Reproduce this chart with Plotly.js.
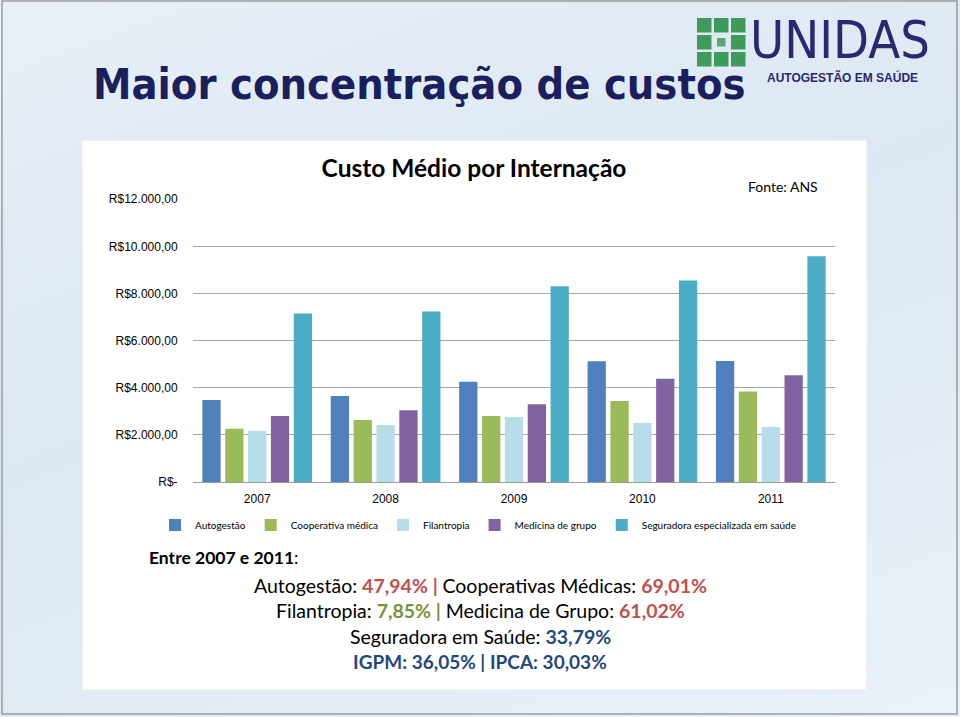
<!DOCTYPE html>
<html>
<head>
<meta charset="utf-8">
<script src="https://cdn.plot.ly/plotly-3.0.1.min.js"></script>
<style>
  html, body { margin: 0; padding: 0; }
  body { width: 960px; height: 717px; overflow: hidden;
         background: linear-gradient(160deg, #e8eff7 0%, #dce8f3 45%, #eaf1f8 100%); }
  #chart { width: 960px; height: 717px; }
</style>
</head>
<body>
<div id="chart"></div>
<script>
// ---- data ----
const years = ["2007", "2008", "2009", "2010", "2011"];
const seriesNames = ["Autogestão", "Cooperativa médica", "Filantropia", "Medicina de grupo", "Seguradora especializada em saúde"];
const autogestao  = [3480, 3650, 4250, 5120, 5130];
const cooperativa = [2260, 2630, 2800, 3440, 3845];
const filantropia = [2165, 2420, 2760, 2500, 2335];
const medicina    = [2800, 3040, 3295, 4380, 4525];
const seguradora  = [7150, 7240, 8310, 8550, 9580];
const tickValues = [0, 2000, 4000, 6000, 8000, 10000, 12000];
const tickLabels = ["R$-", "R$2.000,00", "R$4.000,00", "R$6.000,00", "R$8.000,00", "R$10.000,00", "R$12.000,00"];

const colors = ["#4F81BD", "#9BBB59", "#B7DEE8", "#8064A2", "#4BACC6"];
const allSeries = [autogestao, cooperativa, filantropia, medicina, seguradora];

const traces = allSeries.map((vals, i) => ({
  type: "bar",
  name: seriesNames[i],
  x: years,
  y: vals,
  marker: { color: colors[i] },
  hoverinfo: "skip"
}));

// pixel -> paper helpers (plot area 193..835 x, 199..482 y)
const L = 193, R = 835, T = 199, B = 482;
const px = v => (v - L) / (R - L);
const py = v => (B - v) / (B - T);

const shapes = [
  { type: "rect", xref: "paper", yref: "paper", layer: "below",
    x0: px(82), x1: px(867), y0: py(690), y1: py(140),
    fillcolor: "#ffffff", line: { color: "#e4e9ef", width: 1 } },
  { type: "rect", xref: "paper", yref: "paper", layer: "below",
    x0: px(2), x1: px(957), y0: py(714), y1: py(1),
    fillcolor: "rgba(0,0,0,0)", line: { color: "#9a9a9a", width: 1.5 } }
];
const gx = [697, 714, 731], gy = [18, 35, 52], gs = 14.5;
for (let r = 0; r < 3; r++) {
  for (let c = 0; c < 3; c++) {
    const center = (r === 1 && c === 1);
    const inset = center ? 3 : 0;
    shapes.push({ type: "rect", xref: "paper", yref: "paper", layer: "above",
      x0: px(gx[c] + inset), x1: px(gx[c] + gs - inset),
      y0: py(gy[r] + gs - inset), y1: py(gy[r] + inset),
      fillcolor: center ? "#5aa874" : "#3f9a5e", line: { width: 0 } });
  }
}

const red = "#C0504D", green = "#77933C", navy = "#1F497D";
const bodyFont = { family: "Lato, 'Liberation Sans', sans-serif", size: 19.5, color: "#000000" };
const c = (col, t) => "<span style='color:" + col + "'><b>" + t + "</b></span>";

const annotations = [
  { text: "<b>Maior concentração de custos</b>", xref: "paper", yref: "paper",
    x: px(91), y: py(84), xanchor: "left", yanchor: "middle", showarrow: false,
    font: { family: "'DejaVu Sans Condensed', 'DejaVu Sans', sans-serif", size: 43, color: "#1B1F5E" } },
  { text: "UNIDAS", xref: "paper", yref: "paper",
    x: px(748), y: py(40), xanchor: "left", yanchor: "middle", showarrow: false,
    font: { family: "'DejaVu Sans Condensed', 'Liberation Sans', sans-serif", size: 52, color: "#2A2870" } },
  { text: "<b>AUTOGESTÃO EM SAÚDE</b>", xref: "paper", yref: "paper",
    x: px(842), y: py(77), xanchor: "center", yanchor: "middle", showarrow: false,
    font: { family: "'Liberation Sans', sans-serif", size: 12, color: "#2A2870" } },
  { text: "Fonte: ANS", xref: "paper", yref: "paper",
    x: px(820), y: py(187), xanchor: "right", yanchor: "middle", showarrow: false,
    font: { family: "Lato, sans-serif", size: 14, color: "#000000" } },
  { text: "<b>Entre 2007 e 2011</b>:", xref: "paper", yref: "paper",
    x: px(147), y: py(557), xanchor: "left", yanchor: "middle", showarrow: false,
    font: { family: bodyFont.family, size: 17.5, color: "#000000" } },
  { text: "Autogestão: " + c(red, "47,94% | ") + "Cooperativas Médicas: " + c(red, "69,01%"),
    xref: "paper", yref: "paper", x: px(480), y: py(585), xanchor: "center", yanchor: "middle", showarrow: false,
    font: bodyFont },
  { text: "Filantropia: " + c(green, "7,85% | ") + "Medicina de Grupo: " + c(red, "61,02%"),
    xref: "paper", yref: "paper", x: px(480), y: py(610), xanchor: "center", yanchor: "middle", showarrow: false,
    font: bodyFont },
  { text: "Seguradora em Saúde: " + c(navy, "33,79%"),
    xref: "paper", yref: "paper", x: px(480), y: py(636), xanchor: "center", yanchor: "middle", showarrow: false,
    font: bodyFont },
  { text: "<b>IGPM: 36,05% | IPCA: 30,03%</b>",
    xref: "paper", yref: "paper", x: px(480), y: py(661), xanchor: "center", yanchor: "middle", showarrow: false,
    font: { family: bodyFont.family, size: 19, color: navy } }
];

const layout = {
  width: 960, height: 717,
  margin: { l: L, r: 960 - R, t: T, b: 717 - B, pad: 0 },
  paper_bgcolor: "rgba(0,0,0,0)",
  plot_bgcolor: "rgba(0,0,0,0)",
  barmode: "group",
  bargap: 0.11,
  bargroupgap: 0.2,
  title: { text: "<b>Custo Médio por Internação</b>", x: 474 / 960, xanchor: "center",
           y: 1 - 168 / 717, yanchor: "middle", yref: "container",
           font: { family: "Lato, sans-serif", size: 24.5, color: "#000000" } },
  font: { family: "Lato, 'Liberation Sans', sans-serif", color: "#000000" },
  xaxis: {
    type: "category",
    showgrid: false, zeroline: false,
    showline: true, linecolor: "#9a9a9a", linewidth: 1,
    ticks: "outside", ticklen: 6, tickcolor: "rgba(0,0,0,0)",
    tickfont: { family: "'Liberation Sans', sans-serif", size: 12, color: "#000000" }
  },
  yaxis: {
    range: [0, 12010],
    tickvals: tickValues, ticktext: tickLabels,
    showgrid: true, gridcolor: "#a6a6a6", gridwidth: 1,
    zeroline: false, showline: false,
    ticks: "outside", ticklen: 12, tickcolor: "rgba(0,0,0,0)",
    tickfont: { family: "'Liberation Sans', sans-serif", size: 12, color: "#000000" }
  },
  legend: {
    orientation: "h", x: px(155), xanchor: "left", y: py(525), yanchor: "middle",
    font: { family: "Lato, sans-serif", size: 10, color: "#000000" },
    itemwidth: 30, traceorder: "normal", bgcolor: "rgba(0,0,0,0)"
  },
  shapes: shapes,
  annotations: annotations,
  showlegend: true
};

Plotly.newPlot("chart", traces, layout, { staticPlot: true, displayModeBar: false });
</script>
</body>
</html>
